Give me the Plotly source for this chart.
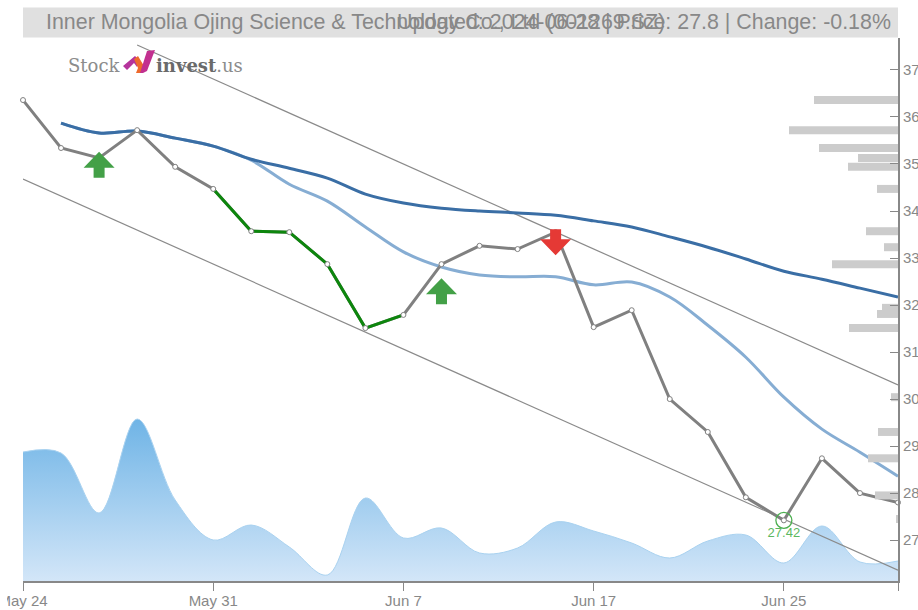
import plotly.graph_objects as go

W, H = 918, 610
L, R, T, B = 23, 898, 38, 581

dates = ["May 24", "May 27", "May 28", "May 29", "May 30", "May 31", "Jun 3", "Jun 4", "Jun 5", "Jun 6",
         "Jun 7", "Jun 11", "Jun 12", "Jun 13", "Jun 14", "Jun 17", "Jun 18", "Jun 19", "Jun 20", "Jun 21",
         "Jun 25", "Jun 26", "Jun 27", "Jun 28"]
close = [36.36, 35.34, 35.13, 35.72, 34.94, 34.47, 33.57, 33.55, 32.87, 31.51, 31.79, 32.87,
         33.26, 33.19, 33.55, 31.53, 31.89, 30.00, 29.30, 27.91, 27.42, 28.74, 28.00, 27.80]
ma_long = [None, 35.87, 35.66, 35.70, 35.55, 35.38, 35.10, 34.91, 34.70, 34.36, 34.17, 34.06,
           34.00, 33.96, 33.91, 33.79, 33.66, 33.45, 33.23, 32.98, 32.72, 32.55, 32.36, 32.17]
ma_short = [None, 35.87, 35.66, 35.70, 35.55, 35.38, 35.08, 34.57, 34.21, 33.66, 33.13, 32.81,
            32.64, 32.60, 32.60, 32.43, 32.49, 32.17, 31.57, 30.89, 30.04, 29.36, 28.87, 28.36]
volume = [129, 128, 68, 162, 81, 41, 56, 34, 6, 83, 43, 53, 28, 33, 59, 50, 38, 23, 40, 46, 18, 55, 19, 20]
profile_price = [36.36, 35.72, 35.34, 35.13, 34.94, 34.47, 33.57, 33.23, 32.87, 31.94, 31.81, 31.51,
                 30.04, 29.30, 28.74, 27.95, 27.45]
profile_len = [84, 109, 79, 40, 50, 21, 32, 14, 66, 16, 21, 49, 7, 20, 30, 23, 2]
upper_x = ["May 29", "Jun 28"]
upper_y = [37.53, 30.30]
lower_x = ["May 24", "Jun 28"]
lower_y = [34.68, 26.36]
green_range = dates[5:11]
buy_x = ["May 28", "Jun 11"]
buy_y = [35.26, 32.57]
sell_x = ["Jun 14"]
sell_y = [33.06]
low_x = ["Jun 25"]
low_y = [27.42]
low_text = ["27.42"]
tick_dates = ["May 24", "May 31", "Jun 7", "Jun 17", "Jun 25", "Jun 28"]
tick_date_labels = ["May 24", "May 31", "Jun 7", "Jun 17", "Jun 25", ""]
price_ticks = [27, 28, 29, 30, 31, 32, 33, 34, 35, 36, 37, 37.68]
price_labels = ["27", "28", "29", "30", "31", "32", "33", "34", "35", "36", "37", ""]
title_left = "Inner Mongolia Ojing Science & Technology Co., Ltd (001269.SZ)"
title_right = "Updated: 2024-06-28 | Price: 27.8 | Change: -0.18%"

GREY = "#888888"


def px(x):
    return (x - L) / (R - L)


def py(y):
    return (B - y) / (B - T)


fig = go.Figure()

fig.add_trace(go.Scatter(
    x=dates, y=volume, xaxis="x", yaxis="y", mode="lines",
    line=dict(shape="spline", smoothing=1.0, color="#a9d2f0", width=1),
    fill="tozeroy",
    fillgradient=dict(type="vertical", colorscale=[[0, "#d3e6f8"], [1, "#6fb4e6"]]),
    hoverinfo="skip"))

fig.add_trace(go.Bar(
    y=profile_price, x=profile_len, xaxis="x2", yaxis="y2", orientation="h",
    width=0.17, marker=dict(color="#cccccc", line=dict(width=0)), hoverinfo="skip"))

for xs, ys in ((upper_x, upper_y), (lower_x, lower_y)):
    fig.add_trace(go.Scatter(x=xs, y=ys, yaxis="y2", mode="lines",
                             line=dict(color="#8a8a8a", width=1.2), hoverinfo="skip"))

fig.add_trace(go.Scatter(x=dates, y=ma_short, yaxis="y2", mode="lines",
                         line=dict(shape="spline", color="#86add3", width=3), connectgaps=False))
fig.add_trace(go.Scatter(x=dates, y=ma_long, yaxis="y2", mode="lines",
                         line=dict(shape="spline", color="#3a6ea5", width=3), connectgaps=False))

fig.add_trace(go.Scatter(x=dates, y=close, yaxis="y2", mode="lines", line=dict(color="#808080", width=3)))
gidx = [dates.index(d) for d in green_range]
fig.add_trace(go.Scatter(x=green_range, y=[close[i] for i in gidx], yaxis="y2", mode="lines",
                         line=dict(color="#0d860d", width=3)))
fig.add_trace(go.Scatter(x=dates, y=close, yaxis="y2", mode="markers", cliponaxis=False,
                         marker=dict(size=5, color="white", line=dict(color="#808080", width=1))))

fig.add_trace(go.Scatter(x=low_x, y=low_y, yaxis="y2", mode="markers",
                         marker=dict(size=16, color="rgba(0,0,0,0)", line=dict(color="#4caf50", width=1.3))))
fig.add_trace(go.Scatter(x=low_x, y=low_y, yaxis="y2", mode="markers+text", text=low_text,
                         textposition="bottom center",
                         textfont=dict(family="Liberation Sans", size=13, color="#5cb860"),
                         marker=dict(size=10, color="rgba(0,0,0,0)", line=dict(width=0))))

shapes = [
    dict(type="rect", xref="paper", yref="paper", x0=px(23), x1=px(898), y0=py(37.5), y1=py(7.5),
         fillcolor="#e0e0e0", line=dict(width=0), layer="below"),
    dict(type="rect", xref="paper", yref="paper", x0=px(0), x1=px(7), y0=py(610), y1=py(591),
         fillcolor="white", line=dict(width=0), layer="above"),
]
UP = "M 0 0 L 15.5 -16 L 5.5 -16 L 5.5 -26 L -5.5 -26 L -5.5 -16 L -15.5 -16 Z"
DOWN = "M 0 0 L 15.5 16 L 5.5 16 L 5.5 26 L -5.5 26 L -5.5 16 L -15.5 16 Z"
for xv, yv in zip(buy_x, buy_y):
    shapes.append(dict(type="path", xref="x", yref="y2", xsizemode="pixel", ysizemode="pixel",
                       xanchor=xv, yanchor=yv, path=UP, fillcolor="#43a047", line=dict(width=0)))
for xv, yv in zip(sell_x, sell_y):
    shapes.append(dict(type="path", xref="x", yref="y2", xsizemode="pixel", ysizemode="pixel",
                       xanchor=xv, yanchor=yv, path=DOWN, fillcolor="#e53935", line=dict(width=0)))


def logo(points, color):
    d = "M " + " L ".join(f"{px(a):.5f} {py(b):.5f}" for a, b in points) + " Z"
    return dict(type="path", xref="paper", yref="paper", path=d, fillcolor=color, line=dict(width=0))


shapes += [
    logo([(123, 66), (135, 56), (139, 60), (137, 67), (134, 63), (127, 70)], "#b5349c"),
    logo([(134, 59), (138, 56), (144, 66), (142, 73), (136, 73), (138, 68)], "#ee6a2d"),
    logo([(140, 73), (147, 51), (155, 50), (147, 71), (143, 73)], "#c2308f"),
]

annotations = [
    dict(x=px(43.5), y=py(22.5), xref="paper", yref="paper", xanchor="left", yanchor="middle", showarrow=False,
         text=title_left, font=dict(family="Liberation Sans", size=21.4, color=GREY)),
    dict(x=px(893), y=py(22.5), xref="paper", yref="paper", xanchor="right", yanchor="middle", showarrow=False,
         text=title_right, font=dict(family="Liberation Sans", size=21.4, color=GREY)),
    dict(x=px(66), y=py(65), xref="paper", yref="paper", xanchor="left", yanchor="middle", showarrow=False,
         text="Stock", font=dict(family="DejaVu Serif", size=18, color="#8c8c8c")),
    dict(x=px(154), y=py(65), xref="paper", yref="paper", xanchor="left", yanchor="middle", showarrow=False,
         text="<b>invest</b><span style='color:#8c8c8c'>.us</span>",
         font=dict(family="DejaVu Serif", size=18, color="#6a6a6a")),
]

fig.update_layout(
    width=W, height=H, margin=dict(l=L, r=W - R, t=T, b=H - B, pad=0),
    paper_bgcolor="white", plot_bgcolor="white", showlegend=False, barmode="overlay", hovermode=False,
    font=dict(family="Liberation Sans", size=15, color=GREY),
    xaxis=dict(type="category", categoryorder="array", categoryarray=dates, range=[0, len(dates) - 1],
               tickmode="array", tickvals=tick_dates, ticktext=tick_date_labels, ticks="outside", ticklen=8, tickwidth=1,
               tickcolor=GREY, showgrid=False, zeroline=False, showline=True, linecolor=GREY, linewidth=2,
               tickfont=dict(size=15, color=GREY), automargin=False, ticklabelstandoff=-3),
    xaxis2=dict(overlaying="x", range=[875, 0], visible=False, anchor="y2", automargin=False),
    yaxis=dict(range=[0, 543], visible=False, automargin=False),
    yaxis2=dict(overlaying="y", side="right", range=[26.13, 37.68], tickmode="array", tickvals=price_ticks,
                ticktext=price_labels, ticks="inside", ticklen=8, tickwidth=1, tickcolor=GREY, showgrid=False,
                zeroline=False, showline=True, linecolor=GREY, linewidth=2, tickfont=dict(size=15, color=GREY),
                automargin=False),
    shapes=shapes, annotations=annotations,
)

fig.write_html("out.html", config=dict(displayModeBar=False),
               post_script="document.body.style.margin='0';document.body.style.overflow='hidden';")
